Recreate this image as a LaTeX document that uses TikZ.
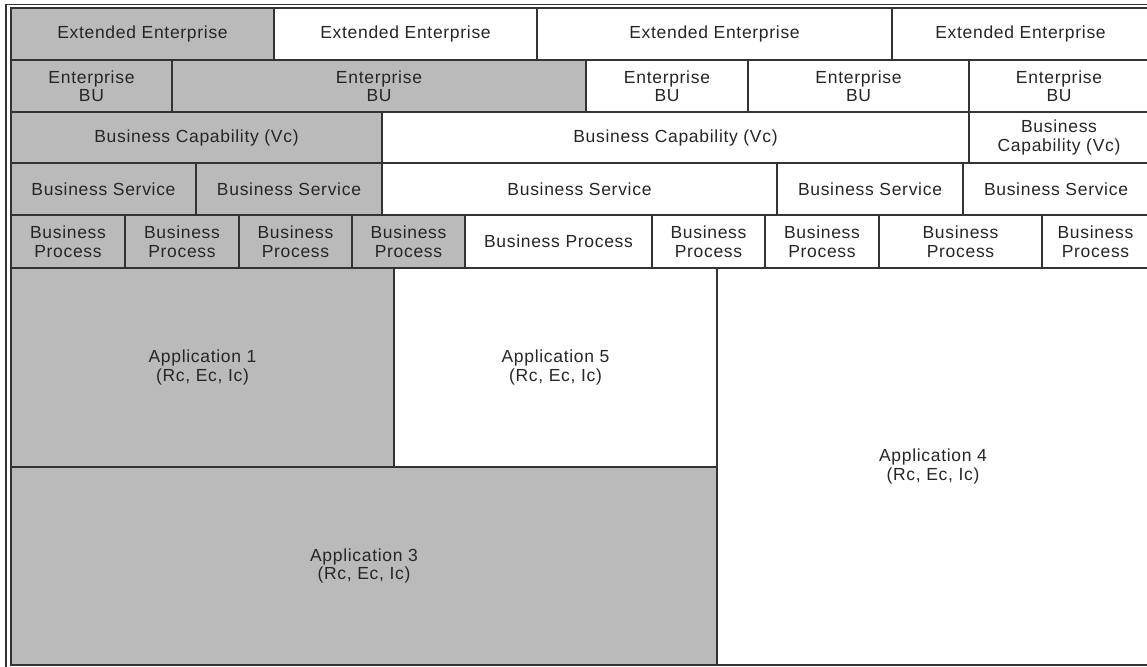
\documentclass[tikz,border=0pt]{standalone}
\usepackage{fontspec}
\setmainfont[LetterSpace=4]{Liberation Sans}
\definecolor{cellgray}{HTML}{BABABA}
\definecolor{rule}{HTML}{333333}
\definecolor{ink}{HTML}{262626}
\tikzset{
  cell/.style={draw=rule, line width=1.6pt, inner sep=0pt, align=center,
    text=ink, font=\fontsize{17.5}{18.5}\selectfont},
  shaded/.style={fill=cellgray},
  plain/.style={fill=white},
}
% \gridcell{name}{x1}{y1}{x2}{y2}{style}{label}
\newcommand{\gridcell}[7]{%
  \pgfmathsetmacro\cw{#4-#2}\pgfmathsetmacro\ch{#5-#3}%
  \pgfmathsetmacro\cx{(#2+#4)/2}\pgfmathsetmacro\cy{(#3+#5)/2}%
  \node[cell,#6,minimum width=\cw pt,minimum height=\ch pt] (#1) at (\cx,\cy) {#7};}
\begin{document}
\begin{tikzpicture}[x=1pt,y=-1pt]
\useasboundingbox (0,0) rectangle (1147,666);
\begin{scope}
\clip (0,0) rectangle (1147,666);
% outer frame
\draw[rule, line width=1.4pt] (6,700) -- (6,4.5) -- (1160,4.5);
% row 1: extended enterprises
\gridcell{ee1}{11}{8}{274}{60}{shaded}{Extended Enterprise}
\gridcell{ee2}{274}{8}{537}{60}{plain}{Extended Enterprise}
\gridcell{ee3}{537}{8}{892}{60}{plain}{Extended Enterprise}
\gridcell{ee4}{892}{8}{1149}{60}{plain}{Extended Enterprise}
% row 2: enterprise business units
\gridcell{bu1}{11}{60}{172}{112}{shaded}{Enterprise\\BU}
\gridcell{bu2}{172}{60}{586}{112}{shaded}{Enterprise\\BU}
\gridcell{bu3}{586}{60}{748}{112}{plain}{Enterprise\\BU}
\gridcell{bu4}{748}{60}{969}{112}{plain}{Enterprise\\BU}
\gridcell{bu5}{969}{60}{1149}{112}{plain}{Enterprise\\BU}
% row 3: business capabilities
\gridcell{bc1}{11}{112}{382}{163}{shaded}{Business Capability (Vc)}
\gridcell{bc2}{382}{112}{969}{163}{plain}{Business Capability (Vc)}
\gridcell{bc3}{969}{112}{1149}{163}{plain}{Business\\Capability (Vc)}
% row 4: business services
\gridcell{bs1}{11}{163}{196}{215}{shaded}{Business Service}
\gridcell{bs2}{196}{163}{382}{215}{shaded}{Business Service}
\gridcell{bs3}{382}{163}{777}{215}{plain}{Business Service}
\gridcell{bs4}{777}{163}{963}{215}{plain}{Business Service}
\gridcell{bs5}{963}{163}{1149}{215}{plain}{Business Service}
% row 5: business processes
\gridcell{bp1}{11}{215}{125}{268}{shaded}{Business\\Process}
\gridcell{bp2}{125}{215}{239}{268}{shaded}{Business\\Process}
\gridcell{bp3}{239}{215}{352}{268}{shaded}{Business\\Process}
\gridcell{bp4}{352}{215}{465}{268}{shaded}{Business\\Process}
\gridcell{bp5}{465}{215}{652}{268}{plain}{Business Process}
\gridcell{bp6}{652}{215}{765}{268}{plain}{Business\\Process}
\gridcell{bp7}{765}{215}{879}{268}{plain}{Business\\Process}
\gridcell{bp8}{879}{215}{1042}{268}{plain}{Business\\Process}
\gridcell{bp9}{1042}{215}{1149}{268}{plain}{Business\\Process}
% applications
\gridcell{app1}{11}{268}{394}{467}{shaded}{Application 1\\(Rc, Ec, Ic)}
\gridcell{app5}{394}{268}{717}{467}{plain}{Application 5\\(Rc, Ec, Ic)}
\gridcell{app3}{11}{467}{717}{665}{shaded}{Application 3\\(Rc, Ec, Ic)}
\gridcell{app4}{717}{268}{1149}{665}{plain}{Application 4\\(Rc, Ec, Ic)}
\end{scope}
\end{tikzpicture}
\end{document}
